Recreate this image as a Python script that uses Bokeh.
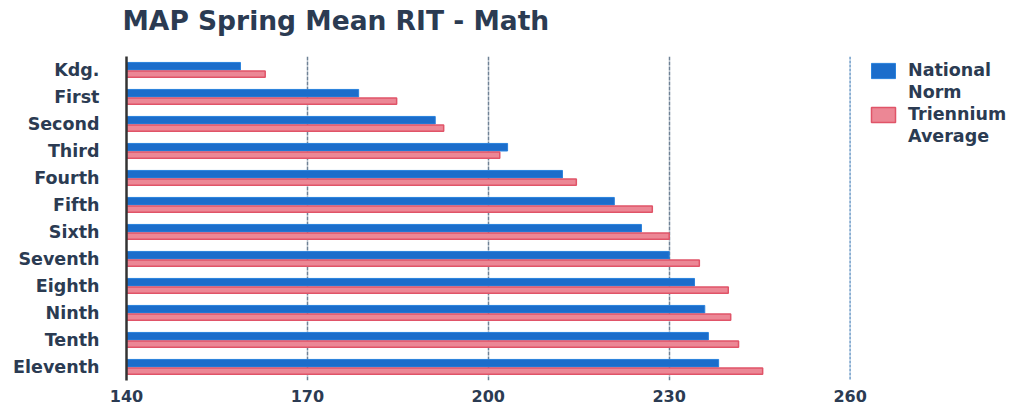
from bokeh.plotting import figure
from bokeh.models import (FactorRange, Range1d, Legend, LegendItem, FixedTicker,
                          ColumnDataSource, Title, Span)
from bokeh.transform import dodge
from bokeh.embed import file_html
from bokeh.resources import INLINE

grades = ["Kdg.", "First", "Second", "Third", "Fourth", "Fifth", "Sixth",
          "Seventh", "Eighth", "Ninth", "Tenth", "Eleventh"]
national_norm = [158.9, 178.5, 191.2, 203.2, 212.3, 220.9, 225.4, 230.0, 234.2, 235.9, 236.5, 238.2]
triennium_avg = [163.0, 184.8, 192.6, 201.9, 214.6, 227.2, 230.0, 235.0, 239.8, 240.2, 241.5, 245.5]
x_ticks = [140, 170, 200, 230, 260]
grid_ticks = [170, 200, 230]
x_end = 260

TXT = "#2b3b52"
FONT = "DejaVu Sans"

p = figure(frame_width=726, frame_height=324, output_backend="svg", toolbar_location=None,
           y_range=FactorRange(factors=list(reversed(grades)), range_padding=0),
           x_range=Range1d(140, 260.4),
           min_border_left=126, min_border_right=155, min_border_top=56,
           min_border_bottom=25)
p.outline_line_color = None

# spacer (inner) then the real title (outer)
p.add_layout(Title(text=" ", text_font_size="10px", standoff=8), "above")
p.add_layout(Title(text="MAP Spring Mean RIT - Math", text_font=FONT,
                   text_font_size="26.5px", text_color=TXT, text_font_style="bold",
                   offset=-4, standoff=0), "above")

source = ColumnDataSource(dict(grade=grades, nat=national_norm, tri=triennium_avg))
empty = ColumnDataSource(dict(grade=[], v=[]))

p.xgrid.ticker = FixedTicker(ticks=grid_ticks)
p.xgrid.grid_line_color = "#6f8296"
p.xgrid.grid_line_width = 1.5
p.xgrid.grid_line_dash = "4 1"
p.ygrid.grid_line_color = None
p.add_layout(Span(location=x_end, dimension="height", line_color="#6f9cc8",
                  line_width=1.5, line_dash="3 1"))

r1 = p.hbar(y=dodge("grade", 0.14, range=p.y_range), right="nat", left=140, height=0.28,
            source=source, fill_color="#1b6dcb", line_color="#2a82dc", line_width=1)
r2 = p.hbar(y=dodge("grade", -0.15, range=p.y_range), right="tri", left=140, height=0.23,
            source=source, fill_color="#ec8795", line_color="#e05468", line_width=1.5)
blank = p.hbar(y="grade", right="v", left=140, height=0.1, source=empty,
               fill_alpha=0, line_alpha=0)

p.xaxis.ticker = FixedTicker(ticks=x_ticks)
p.xaxis.axis_line_color = None
p.xaxis.major_tick_line_color = None
p.xaxis.minor_tick_line_color = None
p.xaxis.major_label_standoff = 3
p.xaxis.major_label_text_font = FONT
p.xaxis.major_label_text_font_size = "16px"
p.xaxis.major_label_text_font_style = "bold"
p.xaxis.major_label_text_color = TXT

p.yaxis.axis_line_color = "#333333"
p.yaxis.axis_line_width = 2.5
p.yaxis.major_tick_line_color = None
p.yaxis.minor_tick_line_color = None
p.yaxis.major_label_standoff = 21
p.yaxis.major_label_text_font = FONT
p.yaxis.major_label_text_font_size = "17.5px"
p.yaxis.major_label_text_font_style = "bold"
p.yaxis.major_label_text_color = TXT

legend = Legend(items=[LegendItem(label="National", renderers=[r1]),
                       LegendItem(label="Norm", renderers=[blank]),
                       LegendItem(label="Triennium", renderers=[r2]),
                       LegendItem(label="Average", renderers=[blank])],
                location=(16, 234), padding=5, margin=0, spacing=2,
                glyph_width=30, glyph_height=19, label_standoff=10,
                background_fill_alpha=0, border_line_color=None,
                label_text_font=FONT, label_text_font_size="17.5px",
                label_text_font_style="bold", label_text_color=TXT)
p.add_layout(legend, "right")

open("out.html", "w").write(file_html(p, INLINE))
